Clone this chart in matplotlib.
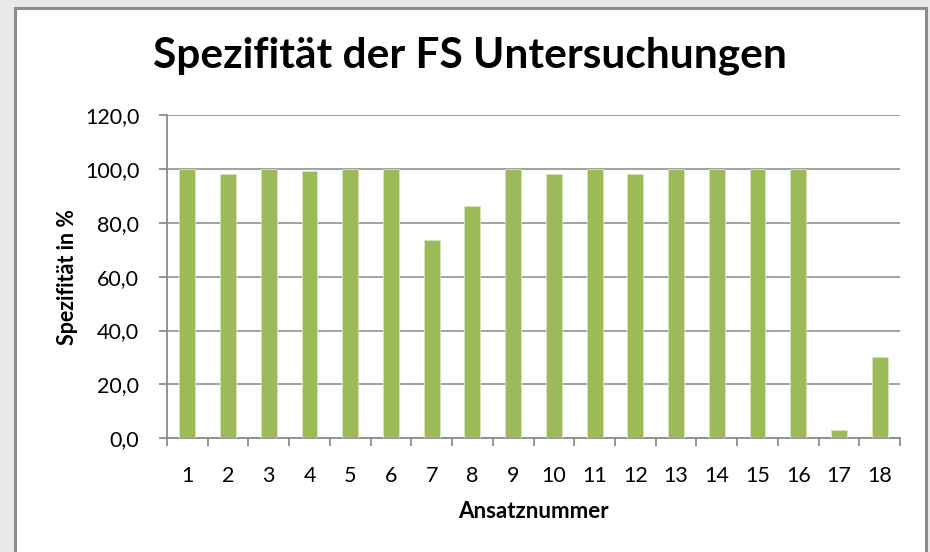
import numpy as np
import matplotlib.pyplot as plt
from matplotlib.patches import Rectangle

plt.rcParams['font.family'] = ['Lato', 'DejaVu Sans']

# data
ansatz = [str(i) for i in range(1, 19)]
spezifitaet = [100.0, 98.1, 100.0, 99.1, 100.0, 100.0, 73.7, 86.4, 100.0,
               98.1, 100.0, 98.1, 100.0, 100.0, 100.0, 100.0, 3.0, 30.2]
yticks = [0, 20, 40, 60, 80, 100, 120]

fig = plt.figure(figsize=(9.3, 5.52), dpi=100, facecolor='#e9e9e9')

# white chart area with grey frame (open at the bottom)
fig.patches.append(Rectangle((15 / 930, -0.05), 911 / 930, 1 - 8 / 552 + 0.05,
                             transform=fig.transFigure, facecolor='white',
                             edgecolor='#8c8c8c', linewidth=2.2, zorder=-5))

ax = fig.add_axes([167 / 930, 1 - 438.3 / 552, (900 - 167) / 930, (438.3 - 115) / 552])
ax.set_facecolor('none')

x = np.arange(len(ansatz))
ax.bar(x, spezifitaet, width=0.39, color='#9bbb59', edgecolor='#d7e4bd',
       linewidth=0.6, zorder=3)

ax.set_xlim(-0.5, len(ansatz) - 0.5)
ax.set_ylim(0, 120)
ax.set_yticks(yticks)
ax.set_yticklabels([f'{v:.1f}'.replace('.', ',') for v in yticks], fontsize=15.5)
ax.set_xticks(x)
ax.set_xticklabels(ansatz, fontsize=15.5)
ax.set_xticks(np.arange(-0.5, len(ansatz)), minor=True)

ax.grid(axis='y', color='#9a9a9a', linewidth=1.3, zorder=0)
for s in ['top', 'right']:
    ax.spines[s].set_visible(False)
for s in ['left', 'bottom']:
    ax.spines[s].set_color('#8c8c8c')
    ax.spines[s].set_linewidth(1.3)

ax.tick_params(axis='x', which='major', length=0, pad=20, colors='black')
ax.tick_params(axis='x', which='minor', length=6, width=1.3, color='#8c8c8c')
ax.tick_params(axis='y', length=6, width=1.3, color='#8c8c8c', pad=14)

ax.set_xlabel('Ansatznummer', fontsize=16, fontweight='bold', labelpad=11)
ax.set_ylabel('Spezifität in %', fontsize=15.5, fontweight='bold', labelpad=5)

fig.text(470 / 930, 1 - 56 / 552, 'Spezifität der FS Untersuchungen',
         ha='center', va='center', fontsize=30.5, fontweight='bold')

fig.savefig('out.png', dpi=100, facecolor=fig.get_facecolor())
